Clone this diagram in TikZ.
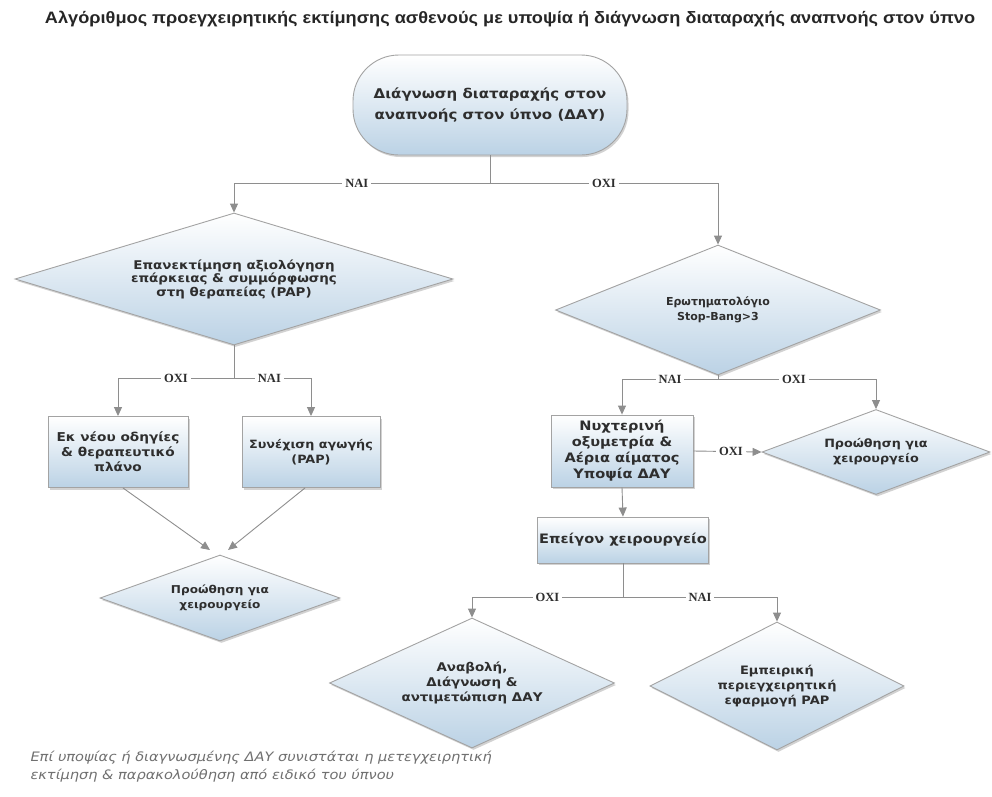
\documentclass[tikz,border=0pt]{standalone}
\usepackage{fontspec}
\setmainfont{DejaVu Sans}
\newfontfamily\nodefont{DejaVu Sans}[FakeStretch=1.12]
\newfontfamily\titlefont{Liberation Sans}
\newfontfamily\labelfont{Liberation Serif}
\usetikzlibrary{shapes.geometric,shadows,arrows.meta}

\definecolor{edgegray}{HTML}{A3A3A3}
\definecolor{linegray}{HTML}{8E8E8E}
\definecolor{fillblue}{HTML}{BBD2E5}
\definecolor{txtgray}{HTML}{2E2E2E}
\definecolor{notegray}{HTML}{707070}

\newcommand{\nfont}[2]{\nodefont\bfseries\fontsize{#1}{#2}\selectfont}

\tikzset{
  shapebase/.style={draw=edgegray, line width=0.9pt, top color=white,
    bottom color=fillblue, text=txtgray, align=center,
    font=\nfont{12}{15},
    drop shadow={opacity=0.35, shadow xshift=1.5pt, shadow yshift=-2pt}},
  decision/.style={shapebase, diamond, inner sep=0pt},
  stepbox/.style={shapebase, rectangle, inner sep=2pt},
  startbox/.style={shapebase, rectangle, rounded corners=46pt,
    font=\nfont{13.4}{21}},
  conn/.style={draw=linegray, line width=0.9pt},
  arr/.style={conn, -{Triangle[width=8pt,length=9pt]}},
  lbl/.style={fill=white, text=txtgray, inner sep=3pt,
    font=\labelfont\bfseries\fontsize{12.5}{14}\selectfont},
}

\begin{document}
\begin{tikzpicture}[x=1pt,y=-1pt]
  \fill[white] (0,0) rectangle (992,796);
  \useasboundingbox (0,0) rectangle (992,796);

  % heading
  \node[text=black!85] (title) at (510,19)
    {\resizebox{930pt}{\height}{\titlefont\bfseries\fontsize{16.5}{18}\selectfont
     Αλγόριθμος προεγχειρητικής εκτίμησης ασθενούς με υποψία ή διάγνωση διαταραχής αναπνοής στον ύπνο}};

  % nodes
  \node[startbox, minimum width=274pt, minimum height=100pt] (start) at (490,105)
    {Διάγνωση διαταραχής στον\\αναπνοής στον ύπνο (ΔΑΥ)};

  \node[decision, aspect=3.3, minimum width=438pt, minimum height=132pt,
        font=\nfont{12}{13.5}] (d1) at (234,279)
    {Επανεκτίμηση αξιολόγηση\\επάρκειας \& συμμόρφωσης\\στη θεραπείας (PAP)};
  \node[decision, aspect=2.5, minimum width=325pt, minimum height=130pt,
        font=\bfseries\fontsize{11}{15}\selectfont] (d2) at (718,310)
    {Ερωτηματολόγιο\\Stop-Bang>3};

  \node[stepbox, minimum width=140pt, minimum height=71pt,
        font=\nfont{12.2}{15}] (bA) at (118,452)
    {Εκ νέου οδηγίες\\\& θεραπευτικό\\πλάνο};
  \node[stepbox, minimum width=138pt, minimum height=71pt,
        font=\nfont{11.4}{15}] (bB) at (311,452)
    {Συνέχιση αγωγής\\(PAP)};
  \node[decision, aspect=2.8, minimum width=240pt, minimum height=86pt,
        font=\nfont{10.8}{15}] (d3) at (220,598)
    {Προώθηση για\\χειρουργείο};

  \node[stepbox, minimum width=142pt, minimum height=72pt,
        font=\nfont{13}{16}] (bC) at (622,451)
    {Νυχτερινή\\οξυμετρία \&\\Αέρια αίματος\\Υποψία ΔΑΥ};
  \node[decision, aspect=2.7, minimum width=228pt, minimum height=85pt,
        font=\nfont{11.4}{15}] (d4) at (876,452)
    {Προώθηση για\\χειρουργείο};
  \node[stepbox, minimum width=166pt, minimum height=46pt,
        font=\nfont{13}{15}] (bD) at (623,540)
    {Επείγον χειρουργείο};

  \node[decision, aspect=2.2, minimum width=285pt, minimum height=130pt,
        font=\nfont{12}{15}] (d5) at (472,683)
    {Αναβολή,\\Διάγνωση \&\\αντιμετώπιση ΔΑΥ};
  \node[decision, aspect=2.0, minimum width=254pt, minimum height=128pt,
        font=\nfont{11.6}{15}] (d6) at (777,686)
    {Εμπειρική\\περιεγχειρητική\\εφαρμογή PAP};

  % branch points
  \coordinate (s1) at (490,183);
  \coordinate (s2) at (234,378);
  \coordinate (s3) at (718,379);
  \coordinate (s4) at (623,597);
  \coordinate (m3a) at (210,550);
  \coordinate (m3b) at (228,550);

  % connectors
  \draw[conn] (start.south) -- (s1);
  \draw[arr] (s1) -| node[lbl, pos=0.26] {ΝΑΙ} (d1.north);
  \draw[arr] (s1) -| node[lbl, pos=0.25] {ΟΧΙ} (d2.north);

  \draw[conn] (d1.south) -- (s2);
  \draw[arr] (s2) -| node[lbl, pos=0.25] {ΟΧΙ} (bA.north);
  \draw[arr] (s2) -| node[lbl, pos=0.23] {ΝΑΙ} (bB.north);
  \draw[arr] ([xshift=5pt]bA.south) -- (m3a);
  \draw[arr] ([xshift=-6pt]bB.south) -- (m3b);

  \draw[conn] (d2.south) -- (s3);
  \draw[arr] (s3) -| node[lbl, pos=0.25] {ΝΑΙ} (bC.north);
  \draw[arr] (s3) -| node[lbl, pos=0.24] {ΟΧΙ} (d4.north);
  \draw[arr] (bC.east) -- node[lbl, pos=0.55] {ΟΧΙ} (d4.west);
  \draw[arr] (bC.south) -- (bD.north);

  \draw[conn] (bD.south) -- (s4);
  \draw[arr] (s4) -| node[lbl, pos=0.25] {ΟΧΙ} (d5.north);
  \draw[arr] (s4) -| node[lbl, pos=0.25] {ΝΑΙ} (d6.north);

  % note under the chart
  \node[anchor=north west, align=left, text=notegray,
        font=\nodefont\itshape\fontsize{13}{18}\selectfont] (note) at (27,748)
    {Επί υποψίας ή διαγνωσμένης ΔΑΥ συνιστάται η μετεγχειρητική\\
     εκτίμηση \& παρακολούθηση από ειδικό του ύπνου};
\end{tikzpicture}
\end{document}
